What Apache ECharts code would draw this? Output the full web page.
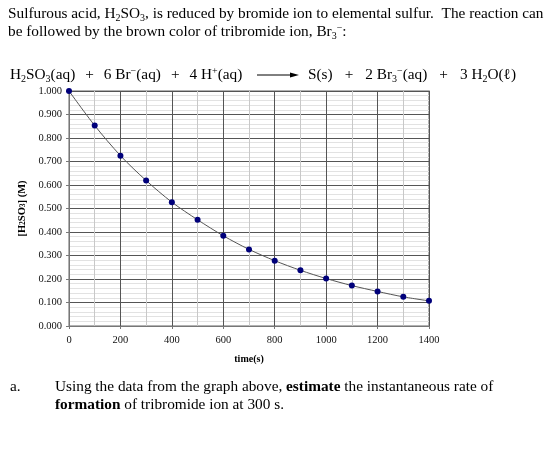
<!DOCTYPE html>
<html>
<head>
<meta charset="utf-8">
<script src="https://cdn.jsdelivr.net/npm/echarts@6/dist/echarts.min.js"></script>
<style>
html,body{margin:0;padding:0;background:#fff;}
#c{width:560px;height:454px;}
</style>
</head>
<body>
<div id="c"></div>
<script>
// Data
var times = [0, 100, 200, 300, 400, 500, 600, 700, 800, 900, 1000, 1100, 1200, 1300, 1400];
var conc = [1.000, 0.853, 0.725, 0.619, 0.527, 0.452, 0.384, 0.326, 0.278, 0.237, 0.202, 0.172, 0.147, 0.124, 0.107];
var xTicks = [0, 200, 400, 600, 800, 1000, 1200, 1400];
var yTicks = [0, 0.1, 0.2, 0.3, 0.4, 0.5, 0.6, 0.7, 0.8, 0.9, 1.0];

var points = times.map(function (t, i) { return [t, conc[i]]; });

var SERIF = '"Liberation Serif", "Times New Roman", serif';
var FS = 15.3;
var baseRich = {
  b: { fontFamily: SERIF, fontSize: FS, lineHeight: 18, color: '#000', fontWeight: 'bold' },
  sub: { fontFamily: SERIF, fontSize: 10, lineHeight: 10, verticalAlign: 'bottom', color: '#000' },
  sup: { fontFamily: SERIF, fontSize: 10, lineHeight: 10, verticalAlign: 'top', color: '#000' },
  pl: { fontFamily: SERIF, fontSize: FS, lineHeight: 18, color: '#000', padding: [0, 10, 0, 10] },
  pr: { fontFamily: SERIF, fontSize: FS, lineHeight: 18, color: '#000', padding: [0, 12, 0, 12] }
};
function txt(x, y, s) {
  return {
    type: 'text', x: x, y: y, silent: true,
    style: {
      text: s, fontFamily: SERIF, fontSize: FS, lineHeight: 18, fill: '#000',
      rich: baseRich, align: 'left', verticalAlign: 'middle'
    }
  };
}

var chart = echarts.init(document.getElementById('c'), null, { renderer: 'canvas' });
chart.setOption({
  backgroundColor: '#fff',
  animation: false,
  grid: { left: 69, right: 131, top: 91, bottom: 128, show: true, borderColor: '#999', borderWidth: 1.5, backgroundColor: 'transparent' },
  xAxis: {
    type: 'value', min: 0, max: 1400, interval: 200,
    name: 'time(s)', nameLocation: 'middle', nameGap: 28,
    nameTextStyle: { fontFamily: SERIF, fontSize: 10, fontWeight: 'bold', color: '#000' },
    axisLine: { show: true, lineStyle: { color: '#777', width: 1 } },
    axisTick: { show: true, length: 3, lineStyle: { color: '#777' } },
    axisLabel: { fontFamily: SERIF, fontSize: 10.5, color: '#111', margin: 9,
      formatter: function (v) { return String(v); } },
    splitLine: { show: true, lineStyle: { color: '#555', width: 1 } },
    minorTick: { show: false, splitNumber: 2 },
    minorSplitLine: { show: true, lineStyle: { color: '#c8c8c8', width: 1 } }
  },
  yAxis: {
    type: 'value', min: 0, max: 1, interval: 0.1,
    name: '[H{s|2}SO{s|3}] (M)', nameLocation: 'middle', nameGap: 31,
    nameTextStyle: { fontFamily: SERIF, fontSize: 10.5, fontWeight: 'bold', color: '#000',
      rich: { s: { fontFamily: SERIF, fontSize: 7.5, fontWeight: 'bold', verticalAlign: 'bottom', lineHeight: 8, color: '#000' } } },
    axisLine: { show: true, lineStyle: { color: '#777', width: 1 } },
    axisTick: { show: true, length: 3, lineStyle: { color: '#777' } },
    axisLabel: { fontFamily: SERIF, fontSize: 10.5, color: '#111', margin: 7,
      formatter: function (v) { return v.toFixed(3); } },
    splitLine: { show: true, lineStyle: { color: '#555', width: 1 } },
    minorTick: { show: false, splitNumber: 5 },
    minorSplitLine: { show: true, lineStyle: { color: '#e2e2e2', width: 1 } }
  },
  series: [{
    type: 'line',
    data: points,
    smooth: 0.3,
    symbol: 'circle',
    symbolSize: 6,
    itemStyle: { color: '#00007a' },
    lineStyle: { color: '#555', width: 1 },
    z: 5
  }],
  graphic: [
    txt(8, 14, 'Sulfurous acid, H{sub|2}SO{sub|3}, is reduced by bromide ion to elemental sulfur.  The reaction can'),
    txt(8, 32, 'be followed by the brown color of tribromide ion, Br{sub|3}{sup|\u2212}:'),
    txt(10, 75, 'H{sub|2}SO{sub|3}(aq){pl|+}6 Br{sup|\u2212}(aq){pl|+}4 H{sup|+}(aq)'),
    { type: 'line', shape: { x1: 257, y1: 75, x2: 292, y2: 75 }, style: { stroke: '#000', lineWidth: 1 }, silent: true },
    { type: 'polygon', shape: { points: [[290, 72.5], [299, 75], [290, 77.5]] }, style: { fill: '#000' }, silent: true },
    txt(308, 75, 'S(s){pr|+}2 Br{sub|3}{sup|\u2212}(aq){pr|+}3 H{sub|2}O(\u2113)'),
    txt(10, 387, 'a.'),
    txt(55, 387, 'Using the data from the graph above, {b|estimate} the instantaneous rate of'),
    txt(55, 405, '{b|formation} of tribromide ion at 300 s.')
  ]
});
</script>
</body>
</html>
